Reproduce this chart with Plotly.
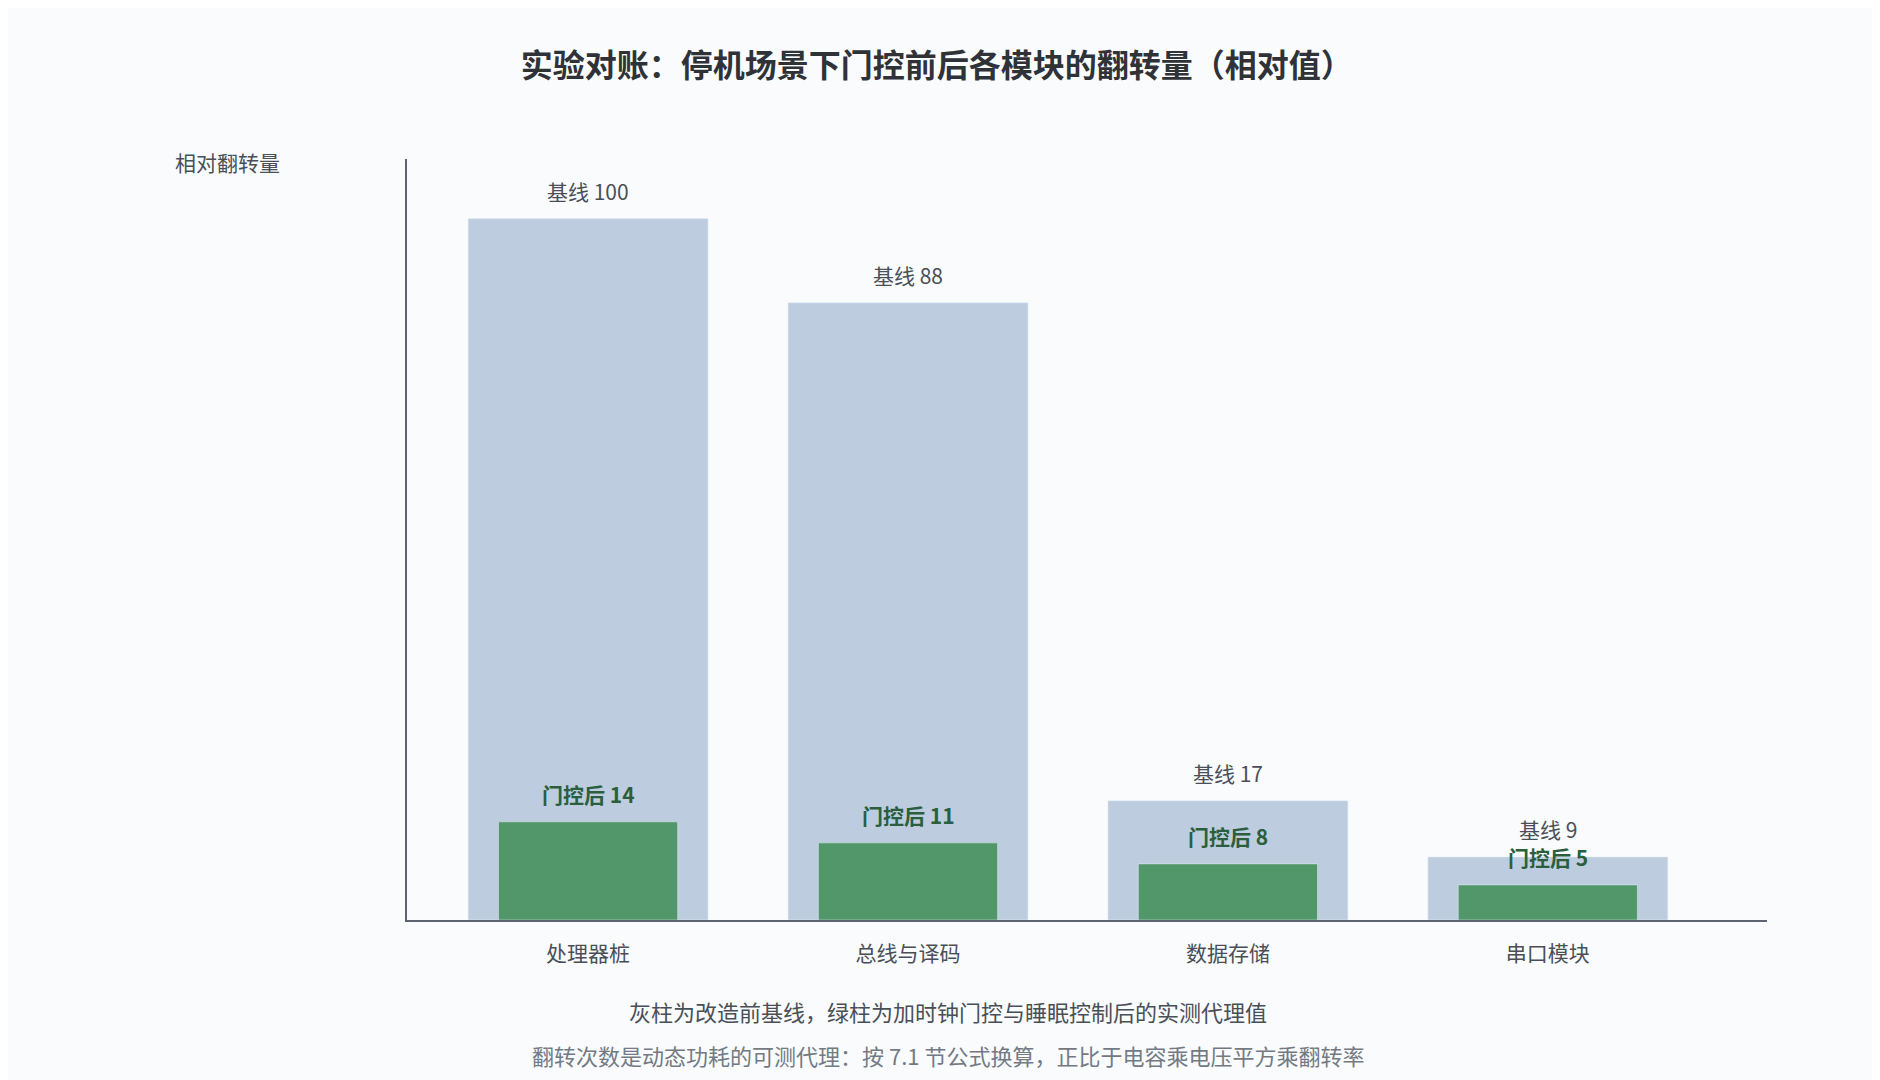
import plotly.graph_objects as go

categories = ["处理器桩", "总线与译码", "数据存储", "串口模块"]
baseline = [100, 88, 17, 9]
gated = [14, 11, 8, 5]

font = "Noto Sans CJK SC"

fig = go.Figure()
fig.add_trace(go.Bar(x=categories, y=baseline, width=0.75, marker_color="#bdcddf"))
fig.add_trace(go.Bar(x=categories, y=gated, width=0.56, marker_color="#52976a"))

notes = []
for c, b, g in zip(categories, baseline, gated):
    notes.append(dict(x=c, y=b, text="基线 %d" % b, yanchor="middle", yshift=28, showarrow=False,
                      font=dict(size=21, color="#4a4f57")))
    notes.append(dict(x=c, y=g, text="<b>门控后 %d</b>" % g, yanchor="middle", yshift=28, showarrow=False,
                      font=dict(size=21, color="#2b5e3d")))

fig.update_layout(
    width=1880, height=1080, barmode="overlay", showlegend=False,
    paper_bgcolor="#f9fbfd", plot_bgcolor="#f9fbfd",
    font=dict(family=font, size=21, color="#4a4f57"),
    margin=dict(l=399, r=121, t=151, b=168),
    title=dict(text="<b>实验对账：停机场景下门控前后各模块的翻转量（相对值）</b>",
               x=0.494, xanchor="center", y=0.957, font=dict(size=32, color="#2f3237")),
    xaxis=dict(range=[-0.566, 3.685], showline=True, linecolor="#5b6470", linewidth=2, ticks="",
               showgrid=False, ticklabelstandoff=14, tickfont=dict(size=21, color="#4a4f57")),
    yaxis=dict(range=[0, 108.5], showline=True, linecolor="#5b6470", linewidth=2,
               showticklabels=False, ticks="", showgrid=False, zeroline=False),
    annotations=notes + [
        dict(text="相对翻转量", xref="paper", yref="paper", x=-0.132, y=1.0, xanchor="center",
             yanchor="bottom", yshift=-20, showarrow=False, font=dict(size=21, color="#4a4f57")),
        dict(text="灰柱为改造前基线，绿柱为加时钟门控与睡眠控制后的实测代理值",
             xref="paper", yref="paper", x=0.398, y=0, yshift=-91, xanchor="center", yanchor="middle",
             showarrow=False, font=dict(size=22, color="#4a4f57")),
        dict(text="翻转次数是动态功耗的可测代理：按 7.1 节公式换算，正比于电容乘电压平方乘翻转率",
             xref="paper", yref="paper", x=0.398, y=0, yshift=-135, xanchor="center", yanchor="middle",
             showarrow=False, font=dict(size=22, color="#737a84")),
    ],
)

fig.write_html("out.html")
